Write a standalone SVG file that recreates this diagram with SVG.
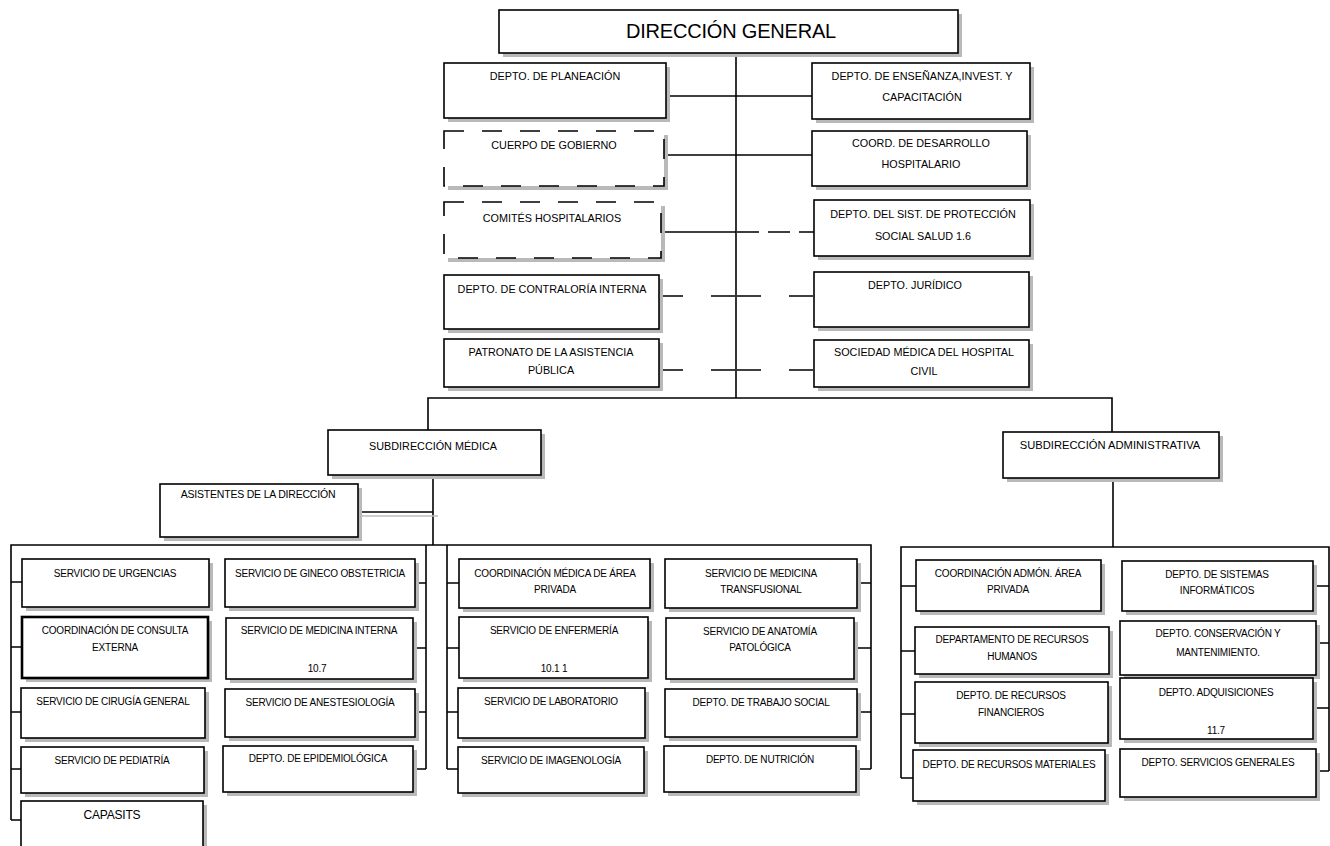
<svg xmlns="http://www.w3.org/2000/svg" width="1330" height="846" viewBox="0 0 1330 846">
<defs>
<style>
.s{fill:#b9b9b9}
.b{fill:#fff;stroke:#000;stroke-width:1.6}
.k{stroke-width:2.6}
.d{stroke-dasharray:20 18}
.t{font-family:"Liberation Sans",Arial,sans-serif;font-size:10px;letter-spacing:-0.2px;text-anchor:middle;fill:#000}
.u{font-size:10.8px;letter-spacing:0}
.c{stroke:#000;stroke-width:1.6;fill:none}
.g{stroke:#bdbdbd;stroke-width:1.5;fill:none}
.cd{stroke-dasharray:24 28}
.cd2{stroke-dasharray:22 9}
</style>
</defs>
<rect width="1330" height="846" fill="#fff"/>
<g id="connectors">
<path class="c" d="M736,53 V398"/>
<path class="c" d="M666,96 H812"/>
<path class="c" d="M664,155 H812"/>
<path class="c" d="M661,232 H736"/>
<path class="c cd2" d="M737,232 H814"/>
<path class="c cd" d="M659,296 H736"/>
<path class="c cd" d="M737,296 H814"/>
<path class="c cd" d="M659,370 H736"/>
<path class="c cd" d="M737,370 H814"/>
<path class="c" d="M428,430 V398 H1112 V432"/>
<path class="c" d="M433,475 V545"/>
<path class="g" d="M362,516 H438"/>
<path class="c" d="M358,512 H433"/>
<path class="c" d="M11,820 V545 H871 V769"/>
<path class="c" d="M11,582 H22 M11,647 H22 M11,712 H21 M11,769 H21 M11,820 H21"/>
<path class="c" d="M426,545 V769 M415,583 H426 M413,648 H426 M415,712 H426 M413,769 H426"/>
<path class="c" d="M447,545 V769 M447,583 H459 M447,648 H459 M447,712 H458 M447,769 H458"/>
<path class="c" d="M857,583 H871 M854,648 H871 M857,712 H871 M856,769 H871"/>
<path class="c" d="M1113,478 V547"/>
<path class="c" d="M901,778 V547 H1329 V771"/>
<path class="c" d="M901,586 H916 M901,651 H915 M901,714 H915 M901,778 H913"/>
<path class="c" d="M1313,586 H1329 M1316,643 H1329 M1313,708 H1329 M1316,771 H1329"/>
</g>
<g id="direccion-general"><rect class="s" x="503" y="14" width="459" height="43"/><rect class="b" x="499" y="10" width="459" height="43"/><text class="t" x="731" y="38" style="font-size:20px;letter-spacing:-0.2px">DIRECCIÓN GENERAL</text></g>
<g id="planeacion"><rect class="s" x="448" y="67" width="222" height="55"/><rect class="b" x="444" y="63" width="222" height="55"/><text class="t u" x="555" y="80">DEPTO. DE PLANEACIÓN</text></g>
<g id="ensenanza"><rect class="s" x="816" y="67" width="218" height="56"/><rect class="b" x="812" y="63" width="218" height="56"/><text class="t u" x="922" y="80">DEPTO. DE ENSEÑANZA,INVEST. Y</text><text class="t u" x="922" y="101">CAPACITACIÓN</text></g>
<g id="cuerpo-gobierno"><rect class="s" x="448" y="135" width="220" height="55"/><rect class="b d" x="444" y="131" width="220" height="55"/><text class="t u" x="554" y="149">CUERPO DE GOBIERNO</text></g>
<g id="coord-desarrollo"><rect class="s" x="816" y="135" width="215" height="55"/><rect class="b" x="812" y="131" width="215" height="55"/><text class="t u" x="921" y="147">COORD. DE DESARROLLO</text><text class="t u" x="921" y="168">HOSPITALARIO</text></g>
<g id="comites"><rect class="s" x="448" y="206" width="217" height="56"/><rect class="b d" x="444" y="202" width="217" height="56"/><text class="t u" x="552" y="222">COMITÉS HOSPITALARIOS</text></g>
<g id="sist-proteccion"><rect class="s" x="818" y="204" width="216" height="56"/><rect class="b" x="814" y="200" width="216" height="56"/><text class="t u" x="923" y="218">DEPTO. DEL SIST. DE PROTECCIÓN</text><text class="t u" x="923" y="240">SOCIAL SALUD 1.6</text></g>
<g id="contraloria"><rect class="s" x="448" y="279" width="215" height="54"/><rect class="b" x="444" y="275" width="215" height="54"/><text class="t u" x="552" y="293">DEPTO. DE CONTRALORÍA INTERNA</text></g>
<g id="juridico"><rect class="s" x="818" y="276" width="215" height="55"/><rect class="b" x="814" y="272" width="215" height="55"/><text class="t u" x="915" y="289">DEPTO. JURÍDICO</text></g>
<g id="patronato"><rect class="s" x="448" y="343" width="215" height="48"/><rect class="b" x="444" y="339" width="215" height="48"/><text class="t u" x="551" y="356">PATRONATO DE LA ASISTENCIA</text><text class="t u" x="551" y="374">PÚBLICA</text></g>
<g id="sociedad-medica"><rect class="s" x="818" y="344" width="215" height="47"/><rect class="b" x="814" y="340" width="215" height="47"/><text class="t u" x="924" y="356">SOCIEDAD MÉDICA DEL HOSPITAL</text><text class="t u" x="924" y="375">CIVIL</text></g>
<g id="sub-medica"><rect class="s" x="332" y="434" width="213" height="45"/><rect class="b" x="328" y="430" width="213" height="45"/><text class="t u" x="433" y="450">SUBDIRECCIÓN MÉDICA</text></g>
<g id="sub-administrativa"><rect class="s" x="1007" y="436" width="216" height="46"/><rect class="b" x="1003" y="432" width="216" height="46"/><text class="t u" x="1110" y="449" style="font-size:11.2px">SUBDIRECCIÓN ADMINISTRATIVA</text></g>
<g id="asistentes"><rect class="s" x="164" y="488" width="198" height="53"/><rect class="b" x="160" y="484" width="198" height="53"/><text class="t" x="258" y="498" style="font-size:10.5px">ASISTENTES DE LA DIRECCIÓN</text></g>
<g id="urgencias"><rect class="s" x="26" y="563" width="187" height="48"/><rect class="b" x="22" y="559" width="187" height="48"/><text class="t" x="115" y="577">SERVICIO DE URGENCIAS</text></g>
<g id="consulta-externa"><rect class="s" x="26" y="621" width="186" height="61"/><rect class="b k" x="22" y="617" width="186" height="61"/><text class="t" x="115" y="634">COORDINACIÓN DE CONSULTA</text><text class="t" x="115" y="651">EXTERNA</text></g>
<g id="cirugia-general"><rect class="s" x="25" y="692" width="184" height="50"/><rect class="b" x="21" y="688" width="184" height="50"/><text class="t" x="113" y="705">SERVICIO DE CIRUGÍA GENERAL</text></g>
<g id="pediatria"><rect class="s" x="25" y="751" width="183" height="46"/><rect class="b" x="21" y="747" width="183" height="46"/><text class="t" x="112" y="764">SERVICIO DE PEDIATRÍA</text></g>
<g id="capasits"><rect class="s" x="25" y="805" width="182" height="50"/><rect class="b" x="21" y="801" width="182" height="50"/><text class="t" x="112" y="819" style="font-size:12px">CAPASITS</text></g>
<g id="gineco"><rect class="s" x="229" y="563" width="190" height="48"/><rect class="b" x="225" y="559" width="190" height="48"/><text class="t" x="320" y="577">SERVICIO DE GINECO OBSTETRICIA</text></g>
<g id="medicina-interna"><rect class="s" x="230" y="622" width="187" height="61"/><rect class="b" x="226" y="618" width="187" height="61"/><text class="t" x="319" y="634">SERVICIO DE MEDICINA INTERNA</text><text class="t" x="317" y="672">10.7</text></g>
<g id="anestesiologia"><rect class="s" x="229" y="693" width="190" height="48"/><rect class="b" x="225" y="689" width="190" height="48"/><text class="t" x="320" y="706">SERVICIO DE ANESTESIOLOGÍA</text></g>
<g id="epidemiologica"><rect class="s" x="227" y="750" width="190" height="46"/><rect class="b" x="223" y="746" width="190" height="46"/><text class="t" x="318" y="762">DEPTO. DE EPIDEMIOLÓGICA</text></g>
<g id="coord-medica-privada"><rect class="s" x="463" y="563" width="191" height="49"/><rect class="b" x="459" y="559" width="191" height="49"/><text class="t" x="555" y="577">COORDINACIÓN MÉDICA DE ÁREA</text><text class="t" x="555" y="593">PRIVADA</text></g>
<g id="enfermeria"><rect class="s" x="463" y="621" width="189" height="61"/><rect class="b" x="459" y="617" width="189" height="61"/><text class="t" x="554" y="634">SERVICIO DE ENFERMERÍA</text><text class="t" x="554" y="672">10.1 1</text></g>
<g id="laboratorio"><rect class="s" x="462" y="692" width="187" height="50"/><rect class="b" x="458" y="688" width="187" height="50"/><text class="t" x="551" y="705">SERVICIO DE LABORATORIO</text></g>
<g id="imagenologia"><rect class="s" x="462" y="751" width="186" height="46"/><rect class="b" x="458" y="747" width="186" height="46"/><text class="t" x="551" y="764">SERVICIO DE IMAGENOLOGÍA</text></g>
<g id="transfusional"><rect class="s" x="669" y="563" width="192" height="49"/><rect class="b" x="665" y="559" width="192" height="49"/><text class="t" x="761" y="577">SERVICIO DE MEDICINA</text><text class="t" x="761" y="593">TRANSFUSIONAL</text></g>
<g id="anatomia-patologica"><rect class="s" x="670" y="622" width="188" height="61"/><rect class="b" x="666" y="618" width="188" height="61"/><text class="t" x="760" y="635">SERVICIO DE ANATOMÍA</text><text class="t" x="760" y="651">PATOLÓGICA</text></g>
<g id="trabajo-social"><rect class="s" x="669" y="693" width="192" height="48"/><rect class="b" x="665" y="689" width="192" height="48"/><text class="t" x="761" y="706">DEPTO. DE TRABAJO SOCIAL</text></g>
<g id="nutricion"><rect class="s" x="668" y="750" width="192" height="46"/><rect class="b" x="664" y="746" width="192" height="46"/><text class="t" x="760" y="763">DEPTO. DE NUTRICIÓN</text></g>
<g id="coord-admon-privada"><rect class="s" x="920" y="564" width="185" height="51"/><rect class="b" x="916" y="560" width="185" height="51"/><text class="t" x="1008" y="577">COORDINACIÓN ADMÓN. ÁREA</text><text class="t" x="1008" y="593">PRIVADA</text></g>
<g id="recursos-humanos"><rect class="s" x="919" y="631" width="194" height="47"/><rect class="b" x="915" y="627" width="194" height="47"/><text class="t" x="1012" y="643">DEPARTAMENTO DE RECURSOS</text><text class="t" x="1012" y="660">HUMANOS</text></g>
<g id="recursos-financieros"><rect class="s" x="919" y="686" width="193" height="61"/><rect class="b" x="915" y="682" width="193" height="61"/><text class="t" x="1011" y="699">DEPTO. DE RECURSOS</text><text class="t" x="1011" y="716">FINANCIEROS</text></g>
<g id="recursos-materiales"><rect class="s" x="917" y="754" width="192" height="51"/><rect class="b" x="913" y="750" width="192" height="51"/><text class="t" x="1009" y="768">DEPTO. DE RECURSOS MATERIALES</text></g>
<g id="sistemas-informaticos"><rect class="s" x="1126" y="565" width="191" height="50"/><rect class="b" x="1122" y="561" width="191" height="50"/><text class="t" x="1217" y="578">DEPTO. DE SISTEMAS</text><text class="t" x="1217" y="594">INFORMÁTICOS</text></g>
<g id="conservacion"><rect class="s" x="1124" y="625" width="196" height="54"/><rect class="b" x="1120" y="621" width="196" height="54"/><text class="t" x="1218" y="637">DEPTO. CONSERVACIÓN Y</text><text class="t" x="1218" y="656">MANTENIMIENTO.</text></g>
<g id="adquisiciones"><rect class="s" x="1124" y="682" width="193" height="61"/><rect class="b" x="1120" y="678" width="193" height="61"/><text class="t" x="1216" y="696">DEPTO. ADQUISICIONES</text><text class="t" x="1216" y="734">11.7</text></g>
<g id="servicios-generales"><rect class="s" x="1124" y="753" width="196" height="48"/><rect class="b" x="1120" y="749" width="196" height="48"/><text class="t" x="1218" y="766">DEPTO. SERVICIOS GENERALES</text></g>
</svg>
